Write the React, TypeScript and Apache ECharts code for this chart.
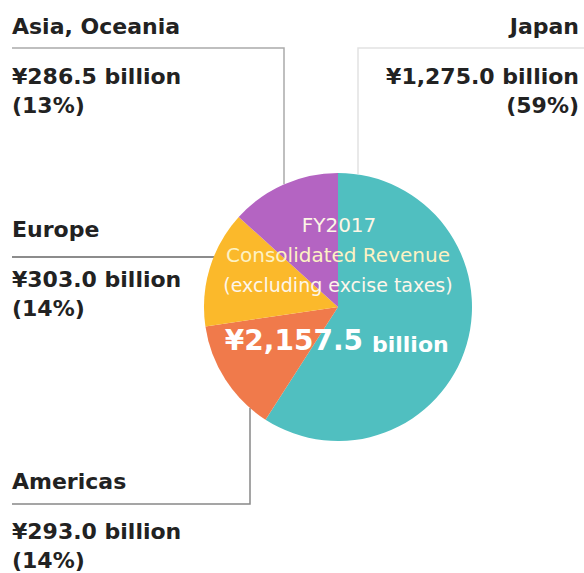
import React, { useEffect, useRef } from "react";
import * as echarts from "echarts";

const regions = ["Japan", "Americas", "Europe", "Asia, Oceania"];
const revenues = [1275.0, 293.0, 303.0, 286.5];
const shares = ["59%", "14%", "14%", "13%"];
const colors = ["#50bfc0", "#f07a4b", "#fbb92b", "#b464c2"];
const totalText = "¥2,157.5";
const centerTitle = ["FY2017", "Consolidated Revenue", "(excluding excise taxes)"];

const fmt = (v: number) =>
  "¥" + v.toLocaleString("en-US", { minimumFractionDigits: 1, maximumFractionDigits: 1 }) + " billion";

// label anchor positions (layout only)
const labelPos: Record<string, { x: number; y: number; align: "left" | "right" }> = {
  Japan: { x: 579, y: 26, align: "right" },
  "Asia, Oceania": { x: 12, y: 26, align: "left" },
  Europe: { x: 12, y: 229, align: "left" },
  Americas: { x: 12, y: 481, align: "left" },
};

export default function App() {
  const ref = useRef<HTMLDivElement>(null);
  useEffect(() => {
    if (!ref.current) return;
    const chart = echarts.init(ref.current, null, { renderer: "svg" });
    const font = "'DejaVu Sans', 'Noto Sans', sans-serif";
    const texts: any[] = [];
    regions.forEach((r, i) => {
      const p = labelPos[r];
      const lines = [r, fmt(revenues[i]), "(" + shares[i] + ")"];
      const offs = [0, 50, 79];
      lines.forEach((t, k) => {
        texts.push({
          type: "text",
          x: p.x,
          y: p.y + offs[k],
          style: {
            text: t,
            fill: "#222",
            font: `bold 22px ${font}`,
            textAlign: p.align,
            textVerticalAlign: "middle",
          },
        });
      });
    });
    const lineStyle = (c: string) => ({ stroke: c, lineWidth: 1.5, fill: "none" });
    const graphics: any[] = [
      { type: "polyline", shape: { points: [[12, 48], [284, 48], [284, 184]] }, style: lineStyle("#aaa") },
      { type: "polyline", shape: { points: [[584, 48], [358, 48], [358, 174]] }, style: lineStyle("#e2e2e2") },
      { type: "polyline", shape: { points: [[12, 257], [214, 257]] }, style: lineStyle("#666") },
      { type: "polyline", shape: { points: [[12, 504], [250, 504], [250, 408]] }, style: lineStyle("#888") },
      ...texts,
      {
        type: "text", x: 339, y: 225, z: 10,
        style: { text: centerTitle[0], fill: "#fdf6e6", font: `20px ${font}`, textAlign: "center", textVerticalAlign: "middle" },
      },
      {
        type: "text", x: 338, y: 255, z: 10,
        style: { text: centerTitle[1], fill: "#fdf2c4", font: `20px ${font}`, textAlign: "center", textVerticalAlign: "middle" },
      },
      {
        type: "text", x: 338, y: 285, z: 10,
        style: { text: centerTitle[2], fill: "#fdf6ea", font: `19px ${font}`, textAlign: "center", textVerticalAlign: "middle" },
      },
      {
        type: "text", x: 363, y: 340, z: 10,
        style: { text: totalText, fill: "#ffffff", font: `bold 28px ${font}`, textAlign: "right", textVerticalAlign: "middle" },
      },
      {
        type: "text", x: 372, y: 344, z: 10,
        style: { text: "billion", fill: "#ffffff", font: `bold 22px ${font}`, textAlign: "left", textVerticalAlign: "middle" },
      },
    ];
    chart.setOption({
      animation: false,
      backgroundColor: "#ffffff",
      series: [
        {
          type: "pie",
          center: [338, 307],
          radius: [0, 134],
          startAngle: 90,
          clockwise: true,
          label: { show: false },
          labelLine: { show: false },
          emphasis: { disabled: true },
          data: regions.map((r, i) => ({ name: r, value: revenues[i], itemStyle: { color: colors[i] } })),
          z: 2,
        },
      ],
      graphic: graphics,
    });
    return () => chart.dispose();
  }, []);
  return <div ref={ref} style={{ position: "fixed", left: 0, top: 0, width: 584, height: 573 }} />;
}
